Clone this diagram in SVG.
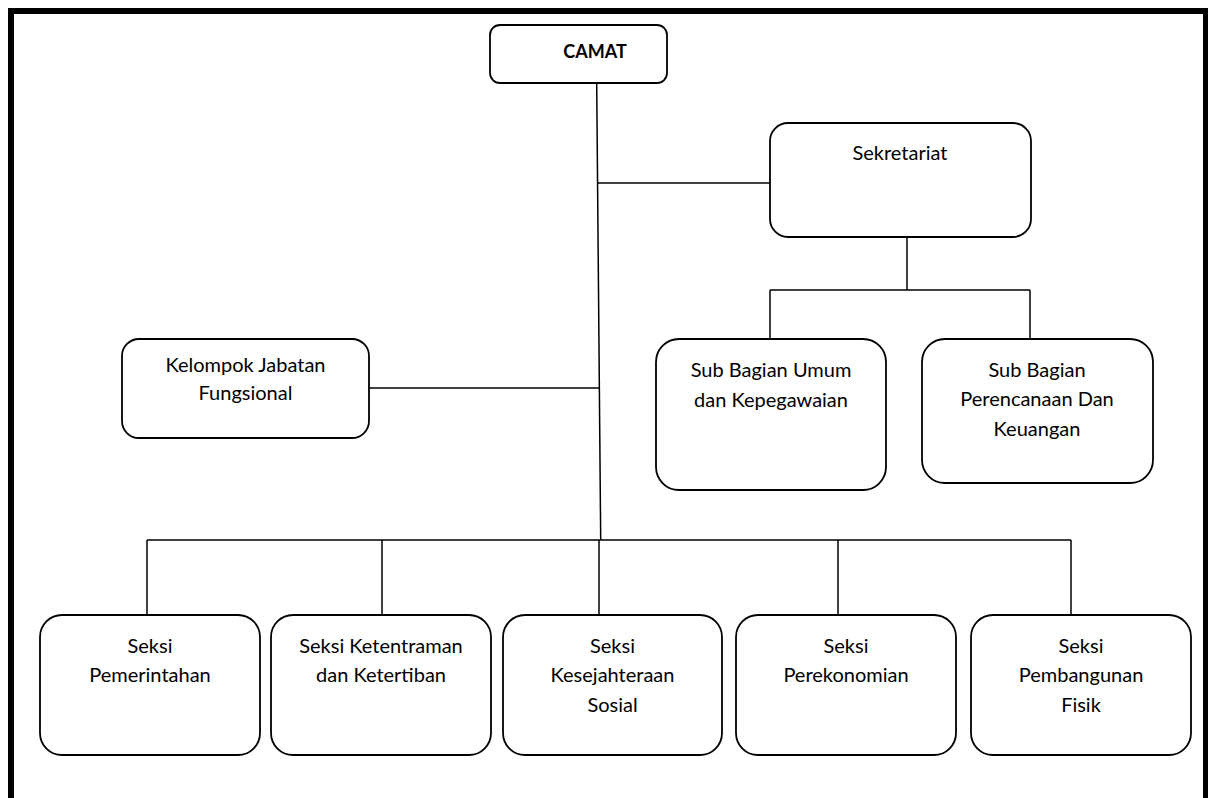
<svg xmlns="http://www.w3.org/2000/svg" width="1208" height="798" viewBox="0 0 1208 798">
<style>
.box{fill:#fff;stroke:#000;stroke-width:1.8}
.ln{stroke:#000;stroke-width:1.5;fill:none}
.t{font-family:Lato,"Liberation Sans",sans-serif;font-size:20px;fill:#000;text-anchor:middle}
.b{font-weight:bold;font-size:18px}
</style>
<rect x="0" y="0" width="1208" height="798" fill="#fff"/>
<rect x="11" y="11" width="1195" height="900" fill="none" stroke="#000" stroke-width="6"/>
<g id="connectors">
<line class="ln" x1="596.7" y1="84" x2="600.7" y2="540"/>
<line class="ln" x1="597.5" y1="183" x2="770" y2="183"/>
<line class="ln" x1="369" y1="388" x2="599.4" y2="388"/>
<line class="ln" x1="907" y1="237" x2="907" y2="290"/>
<line class="ln" x1="770" y1="290" x2="1030" y2="290"/>
<line class="ln" x1="770" y1="290" x2="770" y2="339"/>
<line class="ln" x1="1030" y1="290" x2="1030" y2="339"/>
<line class="ln" x1="147" y1="540" x2="1071" y2="540"/>
<line class="ln" x1="147" y1="540" x2="147" y2="615"/>
<line class="ln" x1="382" y1="540" x2="382" y2="615"/>
<line class="ln" x1="599" y1="540" x2="599" y2="615"/>
<line class="ln" x1="838" y1="540" x2="838" y2="615"/>
<line class="ln" x1="1071" y1="540" x2="1071" y2="615"/>
</g>
<g id="camat">
<rect class="box" x="490" y="25" width="177" height="58" rx="10"/>
<text class="t b" x="595" y="58">CAMAT</text>
</g>
<g id="sekretariat">
<rect class="box" x="770" y="123" width="261" height="114" rx="18"/>
<text class="t" x="900" y="160">Sekretariat</text>
</g>
<g id="kelompok">
<rect class="box" x="122" y="339" width="247" height="99" rx="17"/>
<text class="t" x="245.5" y="372">Kelompok Jabatan</text>
<text class="t" x="245.5" y="400">Fungsional</text>
</g>
<g id="subumum">
<rect class="box" x="656" y="339" width="230" height="151" rx="23"/>
<text class="t" x="771" y="377">Sub Bagian Umum</text>
<text class="t" x="771" y="407">dan Kepegawaian</text>
</g>
<g id="subperencanaan">
<rect class="box" x="922" y="339" width="231" height="144" rx="23"/>
<text class="t" x="1037" y="377">Sub Bagian</text>
<text class="t" x="1037" y="406">Perencanaan Dan</text>
<text class="t" x="1037" y="436">Keuangan</text>
</g>
<g id="pemerintahan">
<rect class="box" x="40" y="615" width="220" height="140" rx="22"/>
<text class="t" x="150" y="653">Seksi</text>
<text class="t" x="150" y="682">Pemerintahan</text>
</g>
<g id="ketentraman">
<rect class="box" x="271" y="615" width="220" height="140" rx="22"/>
<text class="t" x="381" y="653">Seksi Ketentraman</text>
<text class="t" x="381" y="682">dan Ketertiban</text>
</g>
<g id="kesejahteraan">
<rect class="box" x="503" y="615" width="219" height="140" rx="22"/>
<text class="t" x="612.5" y="653">Seksi</text>
<text class="t" x="612.5" y="682">Kesejahteraan</text>
<text class="t" x="612.5" y="712">Sosial</text>
</g>
<g id="perekonomian">
<rect class="box" x="736" y="615" width="220" height="140" rx="22"/>
<text class="t" x="846" y="653">Seksi</text>
<text class="t" x="846" y="682">Perekonomian</text>
</g>
<g id="pembangunan">
<rect class="box" x="971" y="615" width="220" height="140" rx="22"/>
<text class="t" x="1081" y="653">Seksi</text>
<text class="t" x="1081" y="682">Pembangunan</text>
<text class="t" x="1081" y="712">Fisik</text>
</g>
</svg>
